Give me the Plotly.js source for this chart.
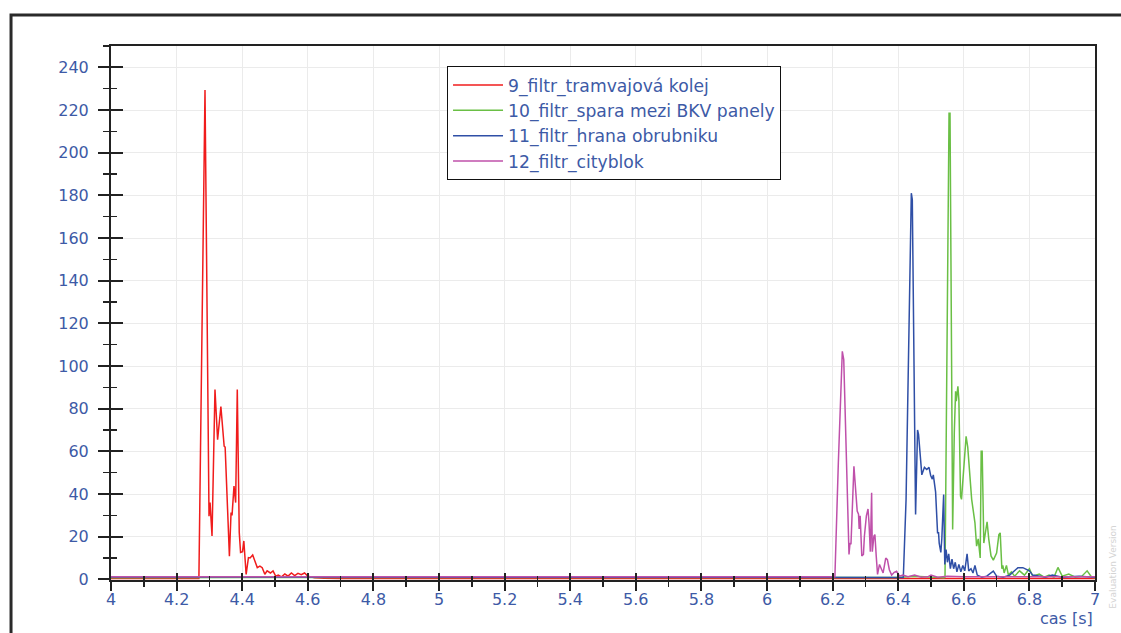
<!DOCTYPE html>
<html>
<head>
<meta charset="utf-8">
<script src="https://cdn.plot.ly/plotly-3.0.1.min.js"></script>
<style>
  html, body { margin: 0; padding: 0; background: #fff; }
  #chart { width: 1121px; height: 633px; }
</style>
</head>
<body>
<div id="chart"></div>
<script>
// ---- Data ----
const seriesNames = [
  "9_filtr_tramvajová kolej",
  "10_filtr_spara mezi BKV panely",
  "11_filtr_hrana obrubniku",
  "12_filtr_cityblok"
];

const redX = [4.0, 4.1, 4.2, 4.268, 4.2866, 4.2988, 4.302, 4.308, 4.317, 4.325, 4.335, 4.340, 4.345, 4.348, 4.361, 4.366, 4.369, 4.375, 4.380, 4.385, 4.391, 4.395, 4.401, 4.405, 4.412, 4.419, 4.424, 4.432, 4.436, 4.446, 4.454, 4.461, 4.469, 4.476, 4.486, 4.494, 4.502, 4.51, 4.52, 4.53, 4.54, 4.55, 4.56, 4.57, 4.58, 4.59, 4.60, 4.62, 4.65, 4.7, 5.0, 5.5, 6.0, 6.5, 7.0];
const redY = [0.4, 0.4, 0.4, 0.4, 229.4, 29.6, 36, 20.3, 89, 65.5, 81, 70, 62.4, 62, 10.9, 31.3, 30, 43.7, 36, 89, 22, 12.6, 13, 18, 2.3, 10.2, 10, 11.4, 9.5, 5.5, 6.2, 5.5, 2.4, 4, 3, 4, 1.5, 2.0, 1.2, 2.5, 1.5, 3.0, 1.8, 2.8, 2.2, 3.0, 1.5, 0.8, 0.5, 0.4, 0.4, 0.4, 0.4, 0.4, 0.4];

const greenX = [4.0, 5.0, 6.0, 6.3, 6.40, 6.45, 6.50, 6.5396, 6.5427, 6.550, 6.555, 6.558, 6.563, 6.566, 6.571, 6.575, 6.577, 6.582, 6.585, 6.590, 6.593, 6.601, 6.607, 6.612, 6.617, 6.624, 6.634, 6.639, 6.644, 6.650, 6.653, 6.656, 6.661, 6.667, 6.671, 6.676, 6.683, 6.690, 6.700, 6.707, 6.711, 6.716, 6.719, 6.723, 6.730, 6.736, 6.745, 6.755, 6.77, 6.785, 6.80, 6.81, 6.83, 6.845, 6.86, 6.875, 6.887, 6.90, 6.92, 6.94, 6.96, 6.976, 6.99, 7.0];
const greenY = [0.8, 0.8, 0.8, 0.8, 0.9, 1.5, 1.0, 0.8, 1.0, 131, 218.5, 218.5, 99.9, 23.4, 68.7, 88.2, 83.5, 90.5, 84, 39, 37.5, 56, 67, 62, 50, 37.5, 26.5, 15.6, 19, 10, 60, 60, 17, 23.4, 27, 19, 11, 9, 12.3, 21, 21.8, 5, 6.5, 3, 6.5, 2, 3.5, 1.5, 4, 2, 5, 1.5, 2.5, 1, 2, 1, 5.6, 1.5, 2.5, 1, 1.5, 4, 1, 0.8];

const blueX = [4.0, 5.0, 6.0, 6.3, 6.4156, 6.424, 6.433, 6.440, 6.443, 6.448, 6.453, 6.459, 6.462, 6.472, 6.480, 6.487, 6.494, 6.499, 6.504, 6.507, 6.511, 6.514, 6.520, 6.523, 6.525, 6.530, 6.533, 6.5386, 6.542, 6.546, 6.550, 6.554, 6.559, 6.564, 6.569, 6.574, 6.579, 6.585, 6.591, 6.597, 6.603, 6.610, 6.615, 6.622, 6.628, 6.634, 6.641, 6.655, 6.67, 6.69, 6.70, 6.72, 6.74, 6.765, 6.78, 6.80, 6.81, 6.83, 6.85, 6.87, 6.9, 6.95, 7.0];
const blueY = [1.1, 1.1, 1.1, 1.1, 0.9, 37.5, 131, 181, 178, 84, 30.4, 70, 68, 49, 52.5, 51.5, 52.5, 48.7, 47, 49, 44, 41, 21.8, 21.8, 17, 12.6, 19, 39.8, 7, 14, 8, 12, 5, 9.5, 5, 8, 3.5, 7, 3.5, 6.5, 4, 12, 4, 5, 3, 6.5, 2, 1, 1.5, 3.9, 1.5, 1, 2, 5.5, 5.5, 4, 2, 1.5, 1, 2, 1, 1.5, 1.0];

const magentaX = [4.0, 5.0, 6.0, 6.207, 6.2175, 6.2296, 6.234, 6.241, 6.250, 6.253, 6.256, 6.265, 6.269, 6.275, 6.279, 6.281, 6.284, 6.289, 6.294, 6.297, 6.303, 6.308, 6.311, 6.315, 6.319, 6.321, 6.326, 6.329, 6.333, 6.337, 6.343, 6.348, 6.354, 6.362, 6.367, 6.373, 6.380, 6.388, 6.395, 6.404, 6.414, 6.43, 6.45, 6.47, 6.49, 6.50, 6.52, 6.55, 6.6, 6.7, 6.8, 7.0];
const magentaY = [1.2, 1.2, 1.2, 1.2, 54.6, 106.9, 103, 65.5, 11.7, 17, 16.5, 53, 45.6, 32, 30.6, 23.6, 29.8, 11, 11.7, 20.3, 29.8, 33, 26.5, 13, 40.6, 13, 20.3, 21, 11, 2.3, 7, 5.5, 3, 10, 9.2, 4.5, 2, 3.3, 3.8, 1.5, 2, 1.2, 2, 1, 1.2, 2, 1, 1.5, 1.2, 1.2, 1.2, 1.2];

const xAxisTitle = "cas [s]";
const watermark = "Evaluation Version";

// ---- Styles ----
const colors = ["#f01c1c", "#6abf45", "#2f4fa6", "#bf50aa"];
const labelColor = "#3d5aa6";
const font = "DejaVu Sans, Liberation Sans, Arial, sans-serif";

const xs = [redX, greenX, blueX, magentaX];
const ys = [redY, greenY, blueY, magentaY];

const traces = seriesNames.map((name, i) => ({
  type: "scatter",
  mode: "lines",
  name: name,
  x: xs[i],
  y: ys[i],
  line: { color: colors[i], width: 1.5 },
  hoverinfo: "x+y+name"
}));

// dummy trace for the overlaid axes that draw the inner half of the crossing ticks
traces.push({ type: "scatter", mode: "lines", x: [], y: [], xaxis: "x2", yaxis: "y2", showlegend: false, hoverinfo: "skip" });

const tickColor = "#222";

const layout = {
  width: 1121,
  height: 633,
  margin: { l: 111, r: 26, t: 46, b: 53 },
  paper_bgcolor: "#fff",
  plot_bgcolor: "#fff",
  showlegend: true,
  legend: {
    x: 0.3415, y: 0.962, xanchor: "left", yanchor: "top",
    bgcolor: "#fff", bordercolor: "#111", borderwidth: 1,
    font: { family: font, size: 17.2, color: labelColor },
    traceorder: "normal", itemwidth: 50
  },
  xaxis: {
    range: [4, 7], tick0: 4, dtick: 0.2,
    showgrid: true, gridcolor: "#ebebeb", gridwidth: 1,
    zeroline: false, layer: "below traces",
    showline: true, linecolor: "#222", linewidth: 2, mirror: true,
    ticks: "outside", ticklen: 9, tickwidth: 2, tickcolor: tickColor,
    minor: { dtick: 0.1, tick0: 4, ticks: "outside", ticklen: 5, tickwidth: 1.5, tickcolor: tickColor, showgrid: false },
    tickfont: { family: font, size: 16, color: labelColor },
    ticklabelstandoff: -5,
    fixedrange: true
  },
  yaxis: {
    range: [-0.3, 250], tick0: 0, dtick: 20,
    showgrid: true, gridcolor: "#ebebeb", gridwidth: 1,
    zeroline: false, layer: "below traces",
    showline: true, linecolor: "#222", linewidth: 2, mirror: true,
    ticks: "outside", ticklen: 11, tickwidth: 2, tickcolor: tickColor,
    minor: { dtick: 10, tick0: 0, ticks: "outside", ticklen: 6, tickwidth: 1.5, tickcolor: tickColor, showgrid: false },
    tickfont: { family: font, size: 16, color: labelColor },
    ticklabelstandoff: 6,
    fixedrange: true
  },
  xaxis2: {
    overlaying: "x", anchor: "y2", side: "bottom",
    range: [4, 7], tick0: 4, dtick: 0.2,
    showgrid: false, zeroline: false, showline: false, showticklabels: false,
    ticks: "inside", ticklen: 7, tickwidth: 2, tickcolor: tickColor,
    minor: { dtick: 0.1, tick0: 4, ticks: "inside", ticklen: 4, tickwidth: 1.5, tickcolor: tickColor, showgrid: false },
    fixedrange: true
  },
  yaxis2: {
    overlaying: "y", anchor: "x2", side: "left",
    range: [-0.3, 250], tick0: 0, dtick: 20,
    showgrid: false, zeroline: false, showline: false, showticklabels: false,
    ticks: "inside", ticklen: 12, tickwidth: 2, tickcolor: tickColor,
    minor: { dtick: 10, tick0: 0, ticks: "inside", ticklen: 6, tickwidth: 1.5, tickcolor: tickColor, showgrid: false },
    fixedrange: true
  },
  annotations: [
    {
      text: xAxisTitle, xref: "paper", yref: "paper",
      x: 1, y: -0.0712, xanchor: "right", yanchor: "middle",
      showarrow: false, font: { family: font, size: 16, color: labelColor }
    },
    {
      text: watermark, xref: "paper", yref: "paper",
      x: 1.0185, y: 0.105, xanchor: "center", yanchor: "top",
      textangle: -90, showarrow: false,
      font: { family: font, size: 9, color: "#d4d4d4" }
    }
  ],
  shapes: [
    {
      type: "rect", xref: "paper", yref: "paper",
      x0: -0.1016, x1: 1.2, y0: -0.3, y1: 1.058,
      line: { color: "#2a2a2a", width: 3 }, fillcolor: "rgba(0,0,0,0)", layer: "above"
    }
  ]
};

Plotly.newPlot("chart", traces, layout, { displayModeBar: false, staticPlot: true });
</script>
</body>
</html>
